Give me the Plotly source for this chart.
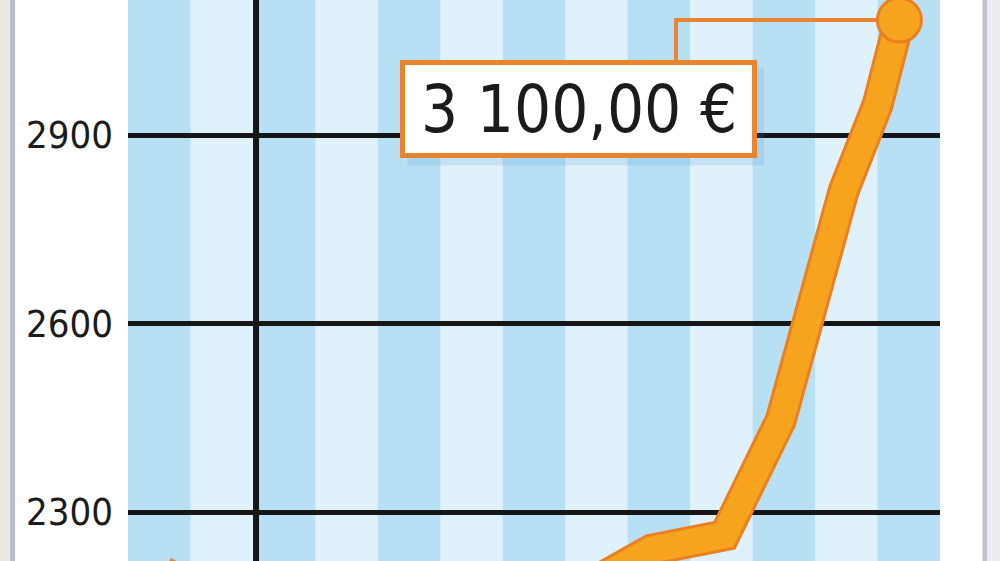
import plotly.graph_objects as go

# period index (one stripe per period) and price in EUR
months = [0.56, 1.5, 2.5, 3.5, 4.5, 5.5, 6.5, 7.45, 8.38, 9.55, 10.45, 11.46, 12.0, 12.35]
prices = [2205, 2150, 2120, 2105, 2100, 2115, 2145, 2188, 2240, 2263, 2446, 2812, 2948, 3083]

tick_vals = [2300, 2600, 2900]
tick_text = ["2300", "2600", "2900"]
n_periods = 13
year_break = 2.05
callout_text = "3 100,00 €"

DARK_STRIPE = "#b8e0f5"
LIGHT_STRIPE = "#dff1fb"
ORANGE_EDGE = "#ec7f1f"
ORANGE_FILL = "#f6a41e"
GRID = "#161616"

fig = go.Figure()

# line drawn twice to get the darker outline round the orange stroke
fig.add_trace(go.Scatter(
    x=months, y=prices, mode="lines",
    line=dict(color=ORANGE_EDGE, width=32),
    hoverinfo="skip", showlegend=False
))
fig.add_trace(go.Scatter(
    x=months, y=prices, mode="lines",
    line=dict(color=ORANGE_FILL, width=26),
    hoverinfo="skip", showlegend=False
))
# end point marker
fig.add_trace(go.Scatter(
    x=[months[-1]], y=[prices[-1]], mode="markers",
    marker=dict(size=44, color=ORANGE_FILL, line=dict(color=ORANGE_EDGE, width=3)),
    hoverinfo="skip", showlegend=False
))

shapes = []
# alternating stripes
for i in range(0, n_periods, 2):
    shapes.append(dict(type="rect", xref="x", yref="paper", x0=i, x1=i + 1, y0=0, y1=1,
                       fillcolor=DARK_STRIPE, line_width=0, layer="below"))
# vertical divider
shapes.append(dict(type="line", xref="x", yref="paper", x0=year_break, x1=year_break, y0=0, y1=1,
                   line=dict(color=GRID, width=6), layer="below"))

# page frame (left and right borders)
shapes += [
    dict(type="rect", xref="paper", yref="paper", x0=-0.16, x1=-0.1452, y0=-0.01, y1=1.01,
         fillcolor="#ebe9e1", line_width=0, layer="below"),
    dict(type="rect", xref="paper", yref="paper", x0=-0.1452, x1=-0.139, y0=-0.01, y1=1.01,
         fillcolor="#bdbccb", line_width=0, layer="below"),
    dict(type="rect", xref="paper", yref="paper", x0=1.0523, x1=1.0585, y0=-0.01, y1=1.01,
         fillcolor="#c2c1cd", line_width=0, layer="below"),
    dict(type="rect", xref="paper", yref="paper", x0=1.0585, x1=1.08, y0=-0.01, y1=1.01,
         fillcolor="#ececf2", line_width=0, layer="below"),
]

# callout box with connector to the last point
box_x0, box_x1 = 4.395, 10.03
box_y0, box_y1 = 2867.5, 3015.5
conn_x = 8.774
shapes.append(dict(type="path", xref="x", yref="y",
                   path=f"M {conn_x},{box_y1} L {conn_x},{prices[-1]} L {months[-1]},{prices[-1]}",
                   line=dict(color="#ea8430", width=4), layer="between"))
shapes.append(dict(type="rect", xref="x", yref="y", x0=box_x0 + 0.08, x1=box_x1 + 0.15,
                   y0=box_y0 - 16, y1=box_y1 - 8,
                   fillcolor="rgba(70,140,200,0.16)", line_width=0, layer="above"))
shapes.append(dict(type="rect", xref="x", yref="y", x0=box_x0, x1=box_x1, y0=box_y0, y1=box_y1,
                   fillcolor="white", line=dict(color="#e8832e", width=5), layer="above"))

fig.add_annotation(
    x=(box_x0 + box_x1) / 2, y=(box_y0 + box_y1) / 2,
    xref="x", yref="y", text=callout_text, showarrow=False,
    font=dict(family="DejaVu Sans Condensed, DejaVu Sans", size=65, color="#1b1b1b"),
    xanchor="center", yanchor="middle"
)

fig.update_layout(
    width=1000, height=561,
    margin=dict(l=128, r=60, t=0, b=0, pad=0),
    paper_bgcolor="white",
    plot_bgcolor=LIGHT_STRIPE,
    shapes=shapes,
    showlegend=False,
    xaxis=dict(range=[0, n_periods], showgrid=False, zeroline=False,
               showticklabels=False, ticks="", fixedrange=True),
    yaxis=dict(range=[2222, 3115], tickvals=tick_vals, ticktext=tick_text,
               showgrid=True, gridcolor=GRID, gridwidth=5, zeroline=False,
               ticks="", ticklabelstandoff=14,
               tickfont=dict(family="DejaVu Sans Condensed, DejaVu Sans", size=38,
                             color="#1b1b1b"),
               fixedrange=True),
)

# drop the default page margin so the chart sits at the window corner
fig.write_html("out.html", config={"displayModeBar": False},
               post_script="document.body.style.margin='0';")
